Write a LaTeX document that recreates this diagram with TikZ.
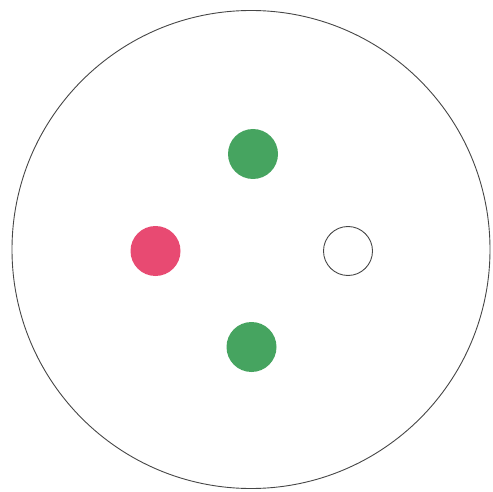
\documentclass[tikz,border=0pt]{standalone}
\usepackage{tikz}

\begin{document}
\begin{tikzpicture}[x=1pt,y=-1pt]
    \definecolor{dotgreen}{RGB}{70,164,96}
    \definecolor{dotpink}{RGB}{232,74,114}
    \definecolor{rimgray}{RGB}{70,70,70}
    \tikzset{
        dot/.style={circle,minimum size=50pt,inner sep=0pt},
    }

    \useasboundingbox (0,0) rectangle (493,492);

    % outer disc
    \node[circle,draw=rimgray,line width=0.9pt,minimum size=478pt,inner sep=0pt]
        (disc) at (251,249.5) {};

    % dots
    \node[dot,fill=dotgreen] (top) at (253,154) {};
    \node[dot,fill=dotpink] (left) at (155.5,251) {};
    \node[dot,draw=rimgray,line width=0.9pt,minimum size=49pt] (right) at (348,251) {};
    \node[dot,fill=dotgreen] (bottom) at (251.5,347) {};
\end{tikzpicture}
\end{document}
